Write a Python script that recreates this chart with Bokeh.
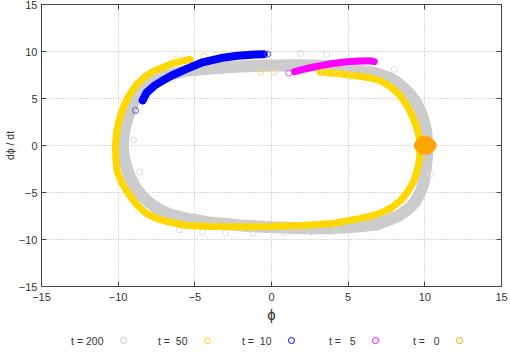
from bokeh.plotting import figure
from bokeh.models import Range1d, FixedTicker, LinearAxis, ColumnDataSource, CustomJSTickFormatter
from bokeh.layouts import column
from bokeh.embed import file_html
from bokeh.resources import INLINE
from bokeh.core.properties import value

# ---------------- data ----------------
ticks = [-15, -10, -5, 0, 5, 10, 15]

labels = ["t = 200", "t =\u00a0\u00a050", "t =\u00a0\u00a010", "t =\u00a0\u00a0\u00a05", "t =\u00a0\u00a0\u00a00"]
colors = ["#cccccc", "#ffd700", "#0000ff", "#ff00ff", "#ffa500"]

# t = 200 : light-gray ring (ordered along the ring)
t200_x = [-9.70, -9.62, -9.40, -9.15, -8.87, -8.40, -7.80, -7.20, -6.50, -5.60, -4.00, -2.00, 0.00, 2.00,
          4.00, 5.00, 5.80, 6.80, 7.60, 8.20, 8.70, 9.10, 9.46, 9.75, 9.94, 10.10, 10.15, 10.15, 10.05,
          9.92, 9.70, 9.35, 8.90, 8.30, 7.60, 6.90, 5.80, 4.00, 2.00, 0.00, -2.00, -4.00, -5.60, -6.50,
          -7.20, -7.80, -8.40, -8.87, -9.25, -9.50, -9.65, -9.70]
t200_y = [0.00, 1.50, 2.85, 4.00, 5.00, 5.90, 6.70, 7.20, 7.60, 7.95, 8.20, 8.40, 8.50, 8.55,
          8.45, 8.25, 7.95, 7.70, 7.25, 6.70, 6.00, 5.30, 4.50, 3.50, 2.50, 1.40, 0.30, -1.00, -2.60,
          -4.00, -5.00, -6.05, -6.80, -7.46, -7.95, -8.38, -8.60, -8.80, -8.80, -8.70, -8.50, -8.20, -7.75, -7.40,
          -6.95, -6.30, -5.50, -4.50, -3.30, -2.10, -1.00, 0.00]
t200_sx = [1.9, 3.6, 8.0, -6.0, -4.5, -3.0, -1.2, 0.8, 2.6, 4.2, -9.0, -8.6, 10.4, 6.2]
t200_sy = [9.8, 9.7, 8.1, -9.0, -9.2, -9.3, -9.3, -9.3, -9.2, -9.1, 0.6, -2.8, -3.0, 8.6]

# t = 50 : gold ring
t50_x = [-5.30, -5.80, -6.50, -7.10, -7.70, -8.20, -8.85, -9.30, -9.60, -9.85, -10.10, -10.18, -10.15,
         -10.06, -9.75, -9.30, -8.80, -8.20, -7.60, -6.90, -6.20, -5.60, -4.00, -2.00, 0.00, 2.00, 4.00,
         5.80, 6.50, 7.10, 7.80, 8.40, 8.90, 9.27, 9.50, 9.65, 9.70, 9.62, 9.45, 9.26, 8.90, 8.40, 7.80,
         7.10, 6.40, 5.60, 4.30, 3.20]
t50_y = [9.15, 9.00, 8.70, 8.30, 7.90, 7.40, 6.40, 5.30, 4.30, 3.20, 1.50, 0.00, -1.50,
         -2.80, -4.00, -5.20, -6.30, -7.20, -7.70, -8.06, -8.30, -8.50, -8.62, -8.65, -8.62, -8.50, -8.30,
         -7.75, -7.50, -7.20, -6.65, -5.90, -4.90, -3.80, -2.70, -1.50, -0.20, 1.00, 2.00, 2.85, 4.10, 5.30, 6.20,
         6.90, 7.20, 7.40, 7.65, 7.80]
t50_sx = [-4.4, -3.6, -3.1, -2.3, -0.7, 0.15, 3.4, 4.3, 5.2, -6.2]
t50_sy = [9.5, 9.6, 9.7, 9.55, 7.8, 7.8, 7.8, 7.6, 7.35, 9.2]

# t = 10 : blue arc
t10_x = [-8.40, -8.15, -7.60, -7.00, -6.50, -5.60, -4.50, -3.30, -2.20, -1.10, -0.50]
t10_y = [4.80, 5.60, 6.40, 7.00, 7.45, 8.10, 8.85, 9.30, 9.55, 9.68, 9.72]
t10_sx = [-8.87, -0.25]
t10_sy = [3.73, 9.72]

# t = 5 : magenta arc
t5_x = [1.50, 2.00, 2.60, 3.20, 4.00, 4.90, 5.70, 6.40, 6.70]
t5_y = [7.85, 8.08, 8.30, 8.50, 8.72, 8.90, 9.00, 9.02, 8.92]
t5_sx = [1.13]
t5_sy = [7.70]

# t = 0 : orange cluster
t0_x = [9.70, 9.85, 10.15, 10.35, 10.15, 9.85, 10.00]
t0_y = [0.00, 0.30, 0.30, 0.00, -0.30, -0.30, 0.00]

# ---------------- figure ----------------
FONT = "Liberation Sans"
LEFT, RIGHT = 41, 9
p = figure(width=510, height=325, output_backend="svg", toolbar_location=None,
           x_range=Range1d(-15, 15), y_range=Range1d(-15, 15),
           min_border_left=LEFT, min_border_right=RIGHT, min_border_top=4, min_border_bottom=36)
p.background_fill_color = "white"
p.border_fill_color = "white"
p.outline_line_color = "#444444"
p.outline_line_width = 1

for ax in (p.xaxis[0], p.yaxis[0]):
    ax.ticker = FixedTicker(ticks=ticks)
    ax.major_tick_in = 5
    ax.major_tick_out = 0
    ax.minor_tick_in = 0
    ax.minor_tick_out = 0
    ax.axis_line_color = "#444444"
    ax.major_tick_line_color = "#444444"
    ax.major_label_text_font = FONT
    ax.major_label_text_font_size = "11px"
    ax.major_label_text_color = "#333333"
    ax.axis_label_text_font = FONT
    ax.axis_label_text_font_style = "normal"
    ax.axis_label_text_color = "#333333"

p.xaxis.major_label_standoff = 6
p.yaxis.major_label_standoff = 4
p.xaxis.axis_label = "\u03d5"
p.xaxis.axis_label_text_font_size = "15px"
p.xaxis.axis_label_standoff = 2
p.yaxis.axis_label = "d\u03d5 / dt"
p.yaxis.axis_label_text_font_size = "10.5px"
p.yaxis.axis_label_standoff = 0

for side in ("above", "right"):
    ax = LinearAxis(ticker=FixedTicker(ticks=ticks),
                    formatter=CustomJSTickFormatter(code="return ''"))
    ax.major_tick_in = 5
    ax.major_tick_out = 0
    ax.minor_tick_in = 0
    ax.minor_tick_out = 0
    ax.axis_line_color = None
    ax.major_tick_line_color = "#444444"
    ax.major_label_text_font_size = "1px"
    ax.major_label_standoff = 0
    p.add_layout(ax, side)

p.grid.ticker = FixedTicker(ticks=ticks)
p.grid.grid_line_color = "#b4b4b4"
p.grid.grid_line_dash = "1 2"
p.grid.grid_line_width = 1

# t = 200
p.line(t200_x, t200_y, line_width=12, line_color=colors[0], line_cap="round", line_join="round")
p.scatter(t200_sx, t200_sy, marker="circle", size=6, fill_color=None, line_color="#dcdcdc")
# t = 50
p.line(t50_x, t50_y, line_width=7, line_color=colors[1], line_cap="round", line_join="round")
p.scatter(t50_sx, t50_sy, marker="circle", size=6, fill_color=None, line_color="#f5e27a")
# t = 10
p.line(t10_x, t10_y, line_width=8, line_color=colors[2], line_cap="round", line_join="round")
p.scatter(t10_sx, t10_sy, marker="circle", size=6, fill_color=None, line_color="#5050e0")
# t = 5
p.line(t5_x, t5_y, line_width=7, line_color=colors[3], line_cap="round", line_join="round")
p.scatter(t5_sx, t5_sy, marker="circle", size=6, fill_color=None, line_color="#e060e0")
# t = 0
p.scatter(t0_x, t0_y, marker="circle", size=12, fill_color=colors[4], line_color=colors[4])

# ---------------- legend strip ----------------
leg = figure(width=510, height=28, output_backend="svg", toolbar_location=None,
             x_range=Range1d(-15, 15), y_range=Range1d(0, 28),
             min_border_left=LEFT, min_border_right=RIGHT, min_border_top=0, min_border_bottom=0)
leg.axis.visible = False
leg.grid.visible = False
leg.outline_line_color = None


def px_to_x(px):
    return (px - LEFT) * 30.0 / (510 - LEFT - RIGHT) - 15.0


n = len(labels)
text_x = [px_to_x(103 + 84 * i) for i in range(n)]
mark_x = [px_to_x(123 + 84 * i) for i in range(n)]
src = ColumnDataSource(dict(tx=text_x, mx=mark_x, y=[13] * n, lab=labels, col=colors))
leg.text(x="tx", y="y", text="lab", source=src, text_align="right", text_baseline="middle",
         text_font=value(FONT), text_font_size="10.5px", text_color="#333333")
leg.scatter(x="mx", y="y", source=src, marker="circle", size=6, fill_color=None, line_color="col")

layout = column(p, leg, spacing=0)
open("out.html", "w").write(file_html(layout, INLINE))
